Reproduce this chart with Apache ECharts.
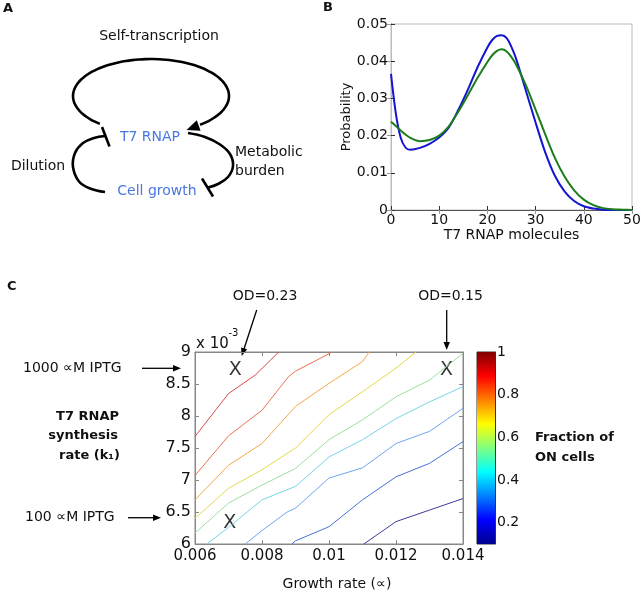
<!DOCTYPE html>
<html>
<head>
<meta charset="UTF-8">
<title>T7 RNAP</title>
<script src="https://cdn.jsdelivr.net/npm/echarts@6/dist/echarts.min.js"></script>
<style>html,body{margin:0;padding:0;background:#fff}</style>
</head>
<body>
<div id="main" style="width:644px;height:595px;"></div>
<script>
// panel B: distribution of T7 RNAP molecules
var molecules = [0,1,2,3,4,6,8,10,12,14,16,18,20,21,22,23,24,25,26,28,30,32,34,36,38,40,42,44,46,48,50];
var probBlue  = [0.0366,0.026,0.0195,0.0168,0.0162,0.0167,0.0178,0.0195,0.0222,0.027,0.0325,0.0385,0.0437,0.0457,0.0468,0.047,0.0462,0.0438,0.0405,0.032,0.0235,0.0155,0.0092,0.005,0.0024,0.001,0.0004,0.0001,0,0,0];
var probGreen = [0.0237,0.0226,0.0214,0.0203,0.0194,0.0185,0.0188,0.02,0.0225,0.0265,0.031,0.0356,0.0398,0.0416,0.0428,0.0432,0.0426,0.0411,0.039,0.0335,0.027,0.0203,0.014,0.009,0.0053,0.0028,0.0013,0.0005,0.0002,0.0001,0];

// panel C: contour lines of fraction of ON cells (growth rate, k1 x 1e-3)
var level09X = [0.006,0.007,0.0078,0.0085];
var level09Y = [7.68,8.35,8.64,9.0];
var level08X = [0.006,0.007,0.008,0.0088,0.009,0.0101];
var level08Y = [7.07,7.69,8.09,8.62,8.7,9.0];
var level07X = [0.006,0.007,0.008,0.009,0.01,0.011,0.0112];
var level07Y = [6.69,7.23,7.57,8.15,8.51,8.85,9.0];
var level06X = [0.006,0.007,0.008,0.009,0.01,0.011,0.012,0.0126];
var level06Y = [6.40,6.87,7.16,7.50,8.02,8.38,8.75,9.0];
var level05X = [0.006,0.007,0.008,0.009,0.01,0.011,0.012,0.013,0.014];
var level05Y = [6.17,6.64,6.92,7.18,7.63,7.94,8.30,8.56,8.98];
var level04X = [0.00635,0.007,0.008,0.009,0.01,0.011,0.012,0.013,0.014];
var level04Y = [6.0,6.26,6.69,6.90,7.36,7.63,7.96,8.22,8.46];
var level03X = [0.0075,0.008,0.00875,0.009,0.01,0.011,0.012,0.013,0.014];
var level03Y = [6.0,6.21,6.5,6.56,7.03,7.19,7.57,7.76,8.12];
var level02X = [0.00889,0.009,0.01,0.011,0.012,0.013,0.014];
var level02Y = [6.0,6.05,6.27,6.69,7.05,7.26,7.6];
var level01X = [0.01104,0.012,0.013,0.014];
var level01Y = [6.0,6.35,6.53,6.71];
var levelColors = ['#d84a4a','#ec7050','#f3a848','#e4d84a','#9edfa0','#78d4e6','#6ea6ee','#4870d6','#3a3e98'];

var markX = [0.0072,0.01351,0.00704];
var markY = [8.72,8.72,6.32];

var colorbarTicks = [0.2,0.4,0.6,0.8,1];

function pairs(xs, ys) {
  var out = [];
  for (var i = 0; i < xs.length; i++) out.push([xs[i], ys[i]]);
  return out;
}
function ellipse(cx, cy, rx, ry, a0, a1) {
  var pts = [];
  for (var a = a0; a <= a1; a += 5) {
    var t = a * Math.PI / 180;
    pts.push([cx + rx * Math.cos(t), cy + ry * Math.sin(t)]);
  }
  return pts;
}

var FONT = '"DejaVu Sans", Verdana, sans-serif';
var BLUE_TXT = '#4a78e2';
function txt(x, y, s, size, opts) {
  opts = opts || {};
  return {
    type: 'text', x: x, y: y, silent: true,
    style: {
      text: s, fill: opts.color || '#111',
      font: (opts.bold ? 'bold ' : '') + size + 'px ' + FONT,
      textAlign: opts.align || 'left', align: opts.align || 'left',
      textVerticalAlign: 'middle', verticalAlign: 'middle'
    }
  };
}
function seg(x1, y1, x2, y2, w) {
  return {type: 'line', silent: true, shape: {x1: x1, y1: y1, x2: x2, y2: y2},
          style: {stroke: '#000', lineWidth: w || 1.3}};
}
function head(tx, ty, dx, dy, len, half) {
  var n = Math.sqrt(dx * dx + dy * dy); dx /= n; dy /= n;
  var bx = tx - dx * len, by = ty - dy * len;
  return {type: 'polygon', silent: true,
          shape: {points: [[tx, ty], [bx - dy * half, by + dx * half], [bx + dy * half, by - dx * half]]},
          style: {fill: '#000'}};
}
function curve(pts, w) {
  return {type: 'polyline', silent: true, shape: {points: pts, smooth: 0.4},
          style: {stroke: '#000', lineWidth: w || 2.6, fill: 'none'}};
}

var graphics = [
  // panel A diagram
  txt(3, 9, 'A', 13, {bold: true}),
  txt(159, 36, 'Self-transcription', 14, {align: 'center'}),
  curve(ellipse(151, 96, 78, 37, 131, 411)),
  head(186.5, 130, -0.938, 0.347, 13, 5.5),
  curve([[105,192],[90,188.5],[79,181.5],[73,167],[75,153],[83,143],[94,138],[105,136]]),
  seg(102, 127, 109.5, 146.5, 2.6),
  curve([[188,133],[205,137],[220,144.5],[230,154],[233,166],[228,177],[218,184],[208,187.5]]),
  seg(202, 178.5, 213, 196.5, 2.6),
  txt(150, 137, 'T7 RNAP', 14, {align: 'center', color: BLUE_TXT}),
  txt(157, 191, 'Cell growth', 14, {align: 'center', color: BLUE_TXT}),
  txt(38, 166, 'Dilution', 14, {align: 'center'}),
  txt(235, 152.5, 'Metabolic', 14),
  txt(235, 171.5, 'burden', 14),
  // panel B letter
  txt(323, 8, 'B', 13, {bold: true}),
  // panel C annotations
  txt(7, 287, 'C', 13, {bold: true}),
  txt(265, 296, 'OD=0.23', 14, {align: 'center'}),
  txt(450.5, 296, 'OD=0.15', 14, {align: 'center'}),
  seg(256.7, 310, 243.5, 350.5),
  head(241.7, 356, -0.304, 0.953, 8, 3.2),
  seg(446.7, 310, 446.7, 343),
  head(446.7, 350, 0, 1, 8, 3.2),
  txt(196, 344, 'x 10', 15),
  txt(228.5, 333, '-3', 10),
  txt(23, 368, '1000 \u221dM IPTG', 14),
  seg(142, 368.3, 174, 368.3),
  head(181, 368.3, 1, 0, 8, 3.2),
  txt(25, 517.5, '100 \u221dM IPTG', 14),
  seg(128, 517.7, 154, 517.7),
  head(161, 517.7, 1, 0, 8, 3.2),
  txt(119, 417, 'T7 RNAP', 13, {bold: true, align: 'right'}),
  txt(118, 436, 'synthesis', 13, {bold: true, align: 'right'}),
  txt(120, 456, 'rate (k\u2081)', 13, {bold: true, align: 'right'}),
  txt(535, 438, 'Fraction of', 13, {bold: true}),
  txt(535, 458, 'ON cells', 13, {bold: true})
];

var contourSeries = [];
var contourData = [
  pairs(level09X, level09Y), pairs(level08X, level08Y), pairs(level07X, level07Y),
  pairs(level06X, level06Y), pairs(level05X, level05Y), pairs(level04X, level04Y),
  pairs(level03X, level03Y), pairs(level02X, level02Y), pairs(level01X, level01Y)
];
for (var i = 0; i < contourData.length; i++) {
  contourSeries.push({
    type: 'line', xAxisIndex: 2, yAxisIndex: 2, data: contourData[i],
    symbol: 'none', silent: true, animation: false,
    lineStyle: {color: levelColors[i], width: 1}
  });
}

var jet = new echarts.graphic.LinearGradient(0, 1, 0, 0, [
  {offset: 0, color: '#00008f'}, {offset: 0.125, color: '#0000ff'},
  {offset: 0.375, color: '#00ffff'}, {offset: 0.625, color: '#ffff00'},
  {offset: 0.875, color: '#ff0000'}, {offset: 1, color: '#800000'}
]);

var axisTxt = {color: '#111', fontFamily: FONT};
var chart = echarts.init(document.getElementById('main'));
chart.setOption({
  animation: false,
  textStyle: {fontFamily: FONT},
  grid: [
    {left: 391, top: 24, width: 241, height: 186, show: true, borderColor: '#bbb', borderWidth: 1},
    {left: 391, top: 24, width: 241, height: 186},
    {left: 195, top: 352, width: 268, height: 192, show: true, borderColor: '#888', borderWidth: 1},
    {left: 477, top: 352, width: 18, height: 192, show: true, borderColor: '#333', borderWidth: 1}
  ],
  xAxis: [
    {gridIndex: 0, type: 'value', min: 0, max: 50, interval: 10, position: 'bottom',
     name: 'T7 RNAP molecules', nameLocation: 'middle', nameGap: 14,
     nameTextStyle: {fontSize: 14, color: '#111'},
     axisLine: {lineStyle: {color: '#333'}}, axisTick: {inside: true, length: 4, lineStyle: {color: '#333'}},
     axisLabel: Object.assign({fontSize: 14, margin: 3}, axisTxt), splitLine: {show: false}},
    {gridIndex: 1, type: 'value', min: 0, max: 50, interval: 10, position: 'top',
     axisLine: {lineStyle: {color: '#555'}}, axisTick: {inside: true, length: 4, lineStyle: {color: '#999'}},
     axisLabel: {show: false}, splitLine: {show: false}},
    {gridIndex: 2, type: 'value', min: 0.006, max: 0.014, interval: 0.002,
     name: 'Growth rate (\u221d)', nameLocation: 'middle', nameGap: 33,
     nameTextStyle: {fontSize: 14, color: '#111', padding: [0, 0, 0, 16]},
     axisLine: {lineStyle: {color: '#888'}}, axisTick: {inside: true, length: 4, lineStyle: {color: '#888'}},
     axisLabel: Object.assign({fontSize: 15, margin: 5}, axisTxt), splitLine: {show: false}},
    {gridIndex: 3, type: 'category', data: ['f'], show: false},
    {gridIndex: 2, type: 'value', min: 0.006, max: 0.014, interval: 0.002, position: 'top',
     axisLine: {lineStyle: {color: '#888'}}, axisTick: {inside: true, length: 4, lineStyle: {color: '#888'}},
     axisLabel: {show: false}, splitLine: {show: false}}
  ],
  yAxis: [
    {gridIndex: 0, type: 'value', min: 0, max: 0.05, interval: 0.01,
     name: 'Probability', nameLocation: 'middle', nameGap: 38,
     nameTextStyle: {fontSize: 13, color: '#111'},
     axisLine: {lineStyle: {color: '#333'}}, axisTick: {inside: true, length: 4, lineStyle: {color: '#333'}},
     axisLabel: Object.assign({fontSize: 14, margin: 3}, axisTxt), splitLine: {show: false}},
    {gridIndex: 1, type: 'value', min: 0, max: 0.05, interval: 0.01, position: 'right',
     axisLine: {lineStyle: {color: '#bbb'}}, axisTick: {inside: true, length: 4, lineStyle: {color: '#999'}},
     axisLabel: {show: false}, splitLine: {show: false}},
    {gridIndex: 2, type: 'value', min: 6, max: 9, interval: 0.5,
     axisLine: {lineStyle: {color: '#888'}}, axisTick: {inside: true, length: 4, lineStyle: {color: '#888'}},
     axisLabel: Object.assign({fontSize: 16, margin: 4}, axisTxt), splitLine: {show: false}},
    {gridIndex: 3, type: 'value', min: 0.1, max: 1, position: 'right',
     axisLine: {show: true, lineStyle: {color: '#333'}},
     axisTick: {show: true, inside: true, length: 3, customValues: colorbarTicks, lineStyle: {color: '#333'}},
     axisLabel: Object.assign({fontSize: 14, margin: 2, customValues: colorbarTicks}, axisTxt),
     splitLine: {show: false}},
    {gridIndex: 2, type: 'value', min: 6, max: 9, interval: 0.5, position: 'right',
     axisLine: {lineStyle: {color: '#888'}}, axisTick: {inside: true, length: 4, lineStyle: {color: '#888'}},
     axisLabel: {show: false}, splitLine: {show: false}}
  ],
  series: [
    {type: 'line', xAxisIndex: 0, yAxisIndex: 0, data: pairs(molecules, probBlue),
     symbol: 'none', smooth: 0.3, lineStyle: {color: '#1414d2', width: 2}},
    {type: 'line', xAxisIndex: 0, yAxisIndex: 0, data: pairs(molecules, probGreen),
     symbol: 'none', smooth: 0.3, lineStyle: {color: '#1b7d1b', width: 2}},
    {type: 'bar', xAxisIndex: 3, yAxisIndex: 3, stack: 'cb', data: [0.1], barWidth: '100%',
     itemStyle: {color: 'rgba(0,0,0,0)'}, silent: true},
    {type: 'bar', xAxisIndex: 3, yAxisIndex: 3, stack: 'cb', data: [0.9], barWidth: '100%',
     itemStyle: {color: jet}, silent: true},
    {type: 'scatter', xAxisIndex: 2, yAxisIndex: 2, data: pairs(markX, markY),
     symbolSize: 1, itemStyle: {color: 'rgba(0,0,0,0)'}, silent: true,
     label: {show: true, position: 'inside', formatter: 'X', fontSize: 19, color: '#000', fontFamily: FONT}}
  ].concat(contourSeries),
  graphic: graphics
});
</script>
</body>
</html>
